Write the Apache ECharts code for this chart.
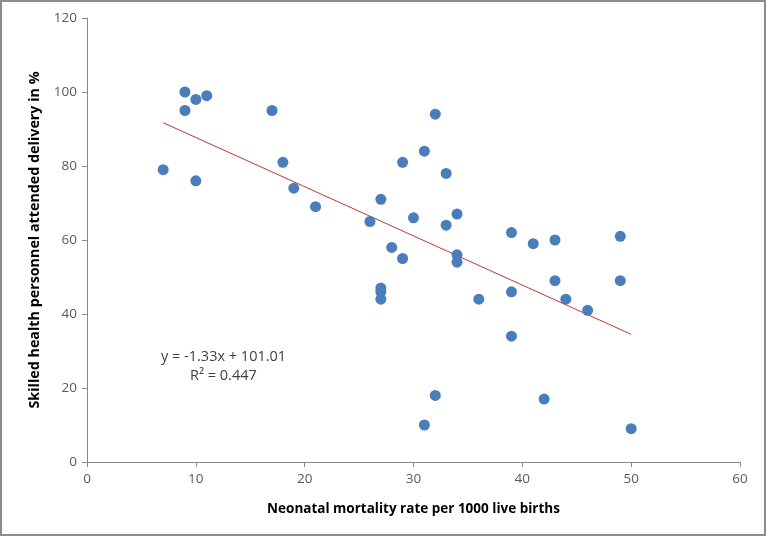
<!DOCTYPE html>
<html>
<head>
<meta charset="utf-8">
<script src="https://cdn.jsdelivr.net/npm/echarts@6/dist/echarts.min.js"></script>
<style>
html,body{margin:0;padding:0;background:#fff;}
#c{width:766px;height:536px;box-sizing:border-box;border:2px solid #8c8c8c;}
</style>
</head>
<body>
<div id="c"></div>
<script>
var neonatalMortality = [7,9,9,10,10,11,17,18,19,21,26,27,27,27,27,28,29,29,30,31,31,32,32,33,33,34,34,34,36,39,39,39,41,42,43,43,44,46,49,49,50];
var skilledAttendance = [79,100,95,98,76,99,95,81,74,69,65,71,47,46,44,58,81,55,66,84,10,94,18,78,64,67,56,54,44,62,46,34,59,17,60,49,44,41,61,49,9];
var trendSlope = -1.33;
var trendIntercept = 101.01;
var trendXRange = [7, 50];
var xTitle = 'Neonatal mortality rate per 1000 live births';
var yTitle = 'Skilled health personnel attended delivery in %';
var eqLine1 = 'y = -1.33x + 101.01';
var eqLine2 = 'R² = 0.447';

var points = neonatalMortality.map(function(x,i){return [x, skilledAttendance[i]];});
var trend = trendXRange.map(function(x){return [x, trendSlope*x + trendIntercept];});

var chart = echarts.init(document.getElementById('c'), null, {renderer:'canvas'});
var FF = 'Open Sans, Liberation Sans, sans-serif';
var axisLabelStyle = {color:'#595959', fontSize:13.5, fontFamily:FF};
chart.setOption({
  animation:false,
  backgroundColor:'#fff',
  grid:{left:85, right:24, top:16, bottom:72},
  xAxis:{
    type:'value', min:0, max:60, interval:10,
    axisLine:{show:true, lineStyle:{color:'#8a8a8a', width:1}},
    axisTick:{show:true, length:5, lineStyle:{color:'#8a8a8a'}},
    splitLine:{show:false},
    axisLabel:Object.assign({margin:10}, axisLabelStyle),
    name:xTitle, nameLocation:'middle', nameGap:40,
    nameTextStyle:{color:'#000', fontSize:13.5, fontWeight:'bold', fontFamily:FF}
  },
  yAxis:{
    type:'value', min:0, max:120, interval:20,
    axisLine:{show:true, lineStyle:{color:'#8a8a8a', width:1}},
    axisTick:{show:true, length:5, lineStyle:{color:'#8a8a8a'}},
    splitLine:{show:false},
    axisLabel:Object.assign({margin:10}, axisLabelStyle),
    name:yTitle, nameLocation:'middle', nameGap:45,
    nameTextStyle:{color:'#000', fontSize:14.3, fontWeight:'bold', fontFamily:FF}
  },
  series:[
    {
      type:'line', data:trend, showSymbol:false, symbol:'none',
      lineStyle:{color:'#c0392b', width:1}, z:1, silent:true
    },
    {
      type:'scatter', data:points, symbol:'circle', symbolSize:11,
      itemStyle:{color:'#4a7ebb', opacity:1}, z:2
    }
  ],
  graphic:[
    {type:'text', left:159, top:347, style:{text:eqLine1, fill:'#404040', font:'14.5px Open Sans, Liberation Sans, sans-serif'}},
    {type:'text', left:188, top:366, style:{text:eqLine2, fill:'#404040', font:'14.5px Open Sans, Liberation Sans, sans-serif'}}
  ]
});
</script>
</body>
</html>
